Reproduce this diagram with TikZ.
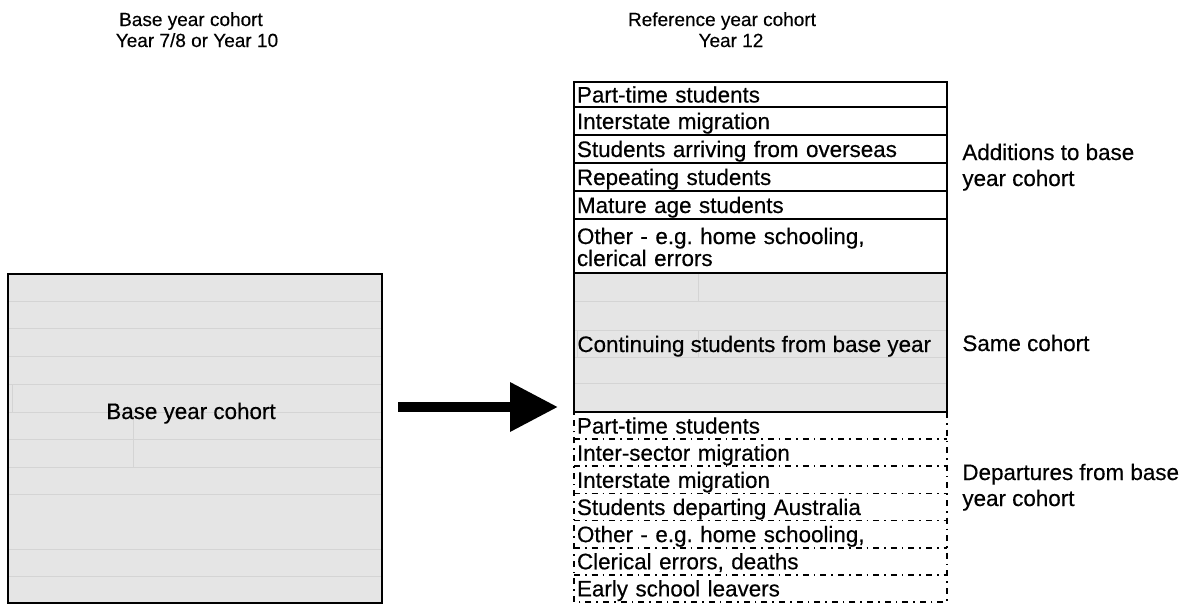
\documentclass[tikz,border=0pt]{standalone}
\usepackage{fontspec}
\setmainfont[FakeBold=0.4]{Liberation Sans}
\usetikzlibrary{arrows.meta}
\frenchspacing

\tikzset{
  bodytext/.style={font=\fontsize{11.2}{11}\selectfont},
  heading/.style={font=\fontsize{9.5}{11}\selectfont, anchor=base},
  sidelabel/.style={bodytext, anchor=base west, inner sep=0pt},
  rowbox/.style={bodytext, anchor=north west, inner xsep=1.5pt, inner ysep=0pt,
    outer sep=0pt, text width=183.5pt, align=left, text height=8pt, text depth=0pt},
  addrow/.style={rowbox, draw, line width=1.3pt},
  deprow/.style={rowbox},
  dashdot/.style={line width=0.8pt, dash pattern=on 3pt off 2.5pt on 0.8pt off 2.5pt},
  faint/.style={draw=black!17, line width=0.5pt},
  cohortfill/.style={fill=black!10},
  bigarrow/.style={line width=5pt, -{Triangle[width=23.5pt,length=24pt]}},
}

\begin{document}
\begin{tikzpicture}[x=0.5pt,y=-0.5pt]
  \useasboundingbox (0,0) rectangle (1189,606);

  % headings
  \node[heading] (basehead) at (191,26) {Base year cohort};
  \node[heading] (baseyear) at (197,47) {Year 7/8 or Year 10};
  \node[heading] (refhead) at (722,26) {Reference year cohort};
  \node[heading] (refyear) at (731,47) {Year 12};

  % base year cohort
  \node[cohortfill, draw, line width=1pt, anchor=north west, minimum width=187pt,
    minimum height=164.5pt, inner sep=0pt, outer sep=0pt] (base) at (8,274) {};
  \foreach \y in {301,328,356,384,412,439,467,494,549,576}
    \draw[faint] (8,\y) -- (382,\y);
  \draw[faint] (12,384) -- (12,412);
  \draw[faint] (133,412) -- (133,467);
  \draw[line width=1pt] (base.north west) rectangle (base.south east);
  \node[bodytext, anchor=base] (basetxt) at (191,419) {Base year cohort};

  % additions
  \node[addrow, minimum height=12.5pt] (add1) at (574,82) {Part-time students};
  \node[addrow, minimum height=14pt] (add2) at (add1.south west) {Interstate migration};
  \node[addrow, minimum height=14pt] (add3) at (add2.south west) {Students arriving from overseas};
  \node[addrow, minimum height=14pt] (add4) at (add3.south west) {Repeating students};
  \node[addrow, minimum height=14pt] (add5) at (add4.south west) {Mature age students};
  \node[addrow, minimum height=27pt, text depth=10pt] (add6) at (add5.south west)
    {Other - e.g. home schooling,\\clerical errors};

  % same cohort
  \node[cohortfill, anchor=north west, minimum width=186.5pt,
    minimum height=69.5pt, inner sep=0pt, outer sep=0pt] (cont) at (add6.south west) {};
  \foreach \y in {301,330,357,383}
    \draw[faint] (574,\y) -- (947,\y);
  \draw[faint] (698,273) -- (698,301);
  \draw[faint] (698,330) -- (698,357);
  \draw[faint] (577,330) -- (577,357);
  \draw[line width=0.8pt] (cont.north west) rectangle (cont.south east);
  \draw[line width=1.3pt] (add6.south west) -- (add6.south east);
  \node[bodytext, anchor=base west, inner sep=0pt] (conttxt) at (577,352)
    {Continuing students from base year};

  % departures
  \node[deprow, minimum height=13.57pt] (dep1) at (cont.south west) {Part-time students};
  \node[deprow, minimum height=13.57pt] (dep2) at (dep1.south west) {Inter-sector migration};
  \node[deprow, minimum height=13.57pt] (dep3) at (dep2.south west) {Interstate migration};
  \node[deprow, minimum height=13.57pt] (dep4) at (dep3.south west) {Students departing Australia};
  \node[deprow, minimum height=13.57pt] (dep5) at (dep4.south west) {Other - e.g. home schooling,};
  \node[deprow, minimum height=13.57pt] (dep6) at (dep5.south west) {Clerical errors, deaths};
  \node[deprow, minimum height=13.57pt] (dep7) at (dep6.south west) {Early school leavers};
  \draw[dashdot] (dep1.north east) -- (dep7.south east) -- (dep7.south west) -- (dep1.north west);
  \foreach \i in {1,...,6}
    \draw[dashdot] (dep\i.south west) -- (dep\i.south east);

  % side labels
  \node[sidelabel] (addlbl1) at (962,160) {Additions to base};
  \node[sidelabel] (addlbl2) at (962,186) {year cohort};
  \node[sidelabel] (samelbl) at (962,351) {Same cohort};
  \node[sidelabel] (deplbl1) at (962,480) {Departures from base};
  \node[sidelabel] (deplbl2) at (962,506) {year cohort};

  % arrow
  \coordinate (arrowstart) at (398,407);
  \coordinate (arrowend) at (558,407);
  \draw[bigarrow] (arrowstart) -- (arrowend);
\end{tikzpicture}
\end{document}
